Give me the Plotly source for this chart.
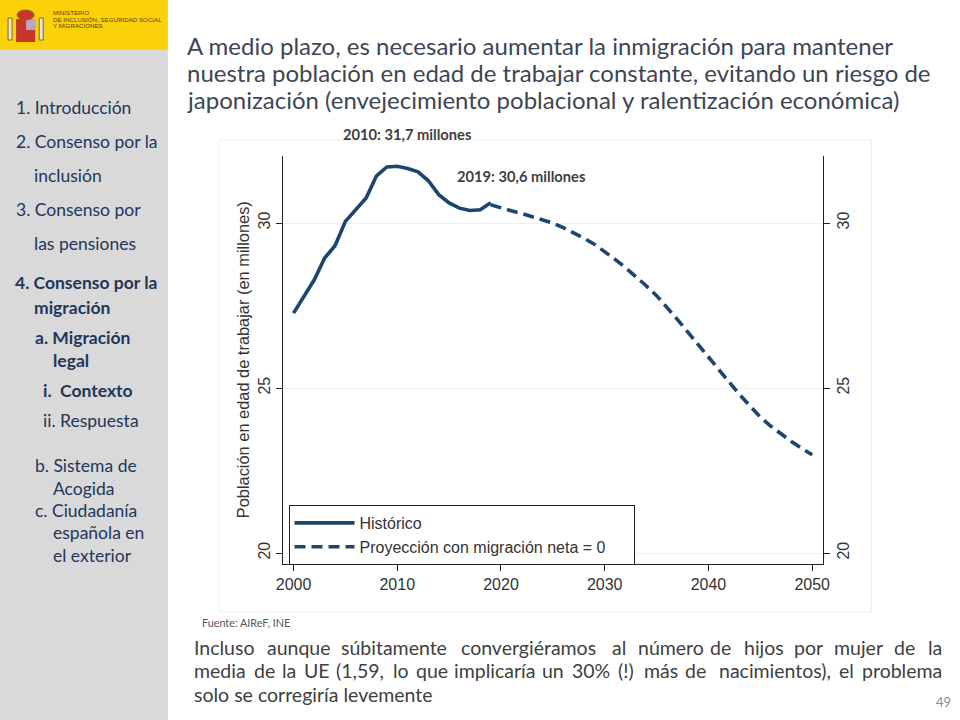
import plotly.graph_objects as go

# ---------------- data ----------------
hist_years = list(range(2000, 2020))
hist_vals = [27.27, 27.78, 28.28, 28.94, 29.31, 30.05, 30.40, 30.76, 31.43, 31.70,
             31.72, 31.65, 31.55, 31.28, 30.86, 30.61, 30.45, 30.38, 30.40, 30.61]

proj_years = list(range(2019, 2051))
proj_vals = [30.55, 30.45, 30.37, 30.29, 30.20, 30.10, 30.00, 29.86, 29.71, 29.54,
             29.36, 29.14, 28.90, 28.65, 28.38, 28.10, 27.80, 27.45, 27.08, 26.70,
             26.33, 25.95, 25.57, 25.18, 24.80, 24.45, 24.12, 23.85, 23.60, 23.38,
             23.17, 22.98]

x_ticks = [2000, 2010, 2020, 2030, 2040, 2050]
y_ticks = [20, 25, 30]

series_names = ["Histórico", "Proyección con migración neta = 0\u00a0\u00a0\u00a0\u00a0\u00a0"]

title_lines = [
    "A medio plazo, es necesario aumentar la inmigración para mantener",
    "nuestra población en edad de trabajar constante, evitando un riesgo de",
    "japonización (envejecimiento poblacional y ralentización económica)",
]
menu_items = [
    ("1. Introducción", 15, 107, False),
    ("2. Consenso por la", 15, 142, False),
    ("inclusión", 33, 175, False),
    ("3. Consenso por", 15, 209, False),
    ("las pensiones", 33, 243, False),
    ("4. Consenso por la", 14, 283, True),
    ("migración", 33, 307, True),
    ("a. Migración", 34, 337, True),
    ("legal", 52, 360, True),
    ("i.  Contexto", 42, 390, True),
    ("ii. Respuesta", 42, 420, False),
    ("b. Sistema de", 34, 465, False),
    ("Acogida", 52, 488, False),
    ("c. Ciudadanía", 34, 510, False),
    ("española en", 52, 532, False),
    ("el exterior", 52, 555, False),
]
bottom_lines = [
    "Incluso aunque súbitamente convergiéramos al número de hijos por mujer de la",
    "media de la UE (1,59, lo que implicaría un 30% (!) más de nacimientos), el problema",
    "solo se corregiría levemente",
]

# figure is laid out a bit wider than the 960px target so that the page renders 1:1
W, H = 980, 720
def px(X):
    return X / 960
def py(Y):
    return 1 - Y / H

navy = "#1c4670"
fig = go.Figure()
fig.add_trace(go.Scatter(x=hist_years, y=hist_vals, mode="lines", name=series_names[0],
                         line=dict(color=navy, width=3.6), xaxis="x", yaxis="y"))
fig.add_trace(go.Scatter(x=proj_years, y=proj_vals, mode="lines", name=series_names[1],
                         line=dict(color=navy, width=3.6, dash="11px,6px"), xaxis="x", yaxis="y"))
fig.add_trace(go.Scatter(x=proj_years, y=proj_vals, mode="lines", showlegend=False,
                         line=dict(width=0), opacity=0, hoverinfo="skip", xaxis="x", yaxis="y2"))

yr = [19.67, 32.03]
tickfont = dict(family="Liberation Sans, Arial", size=16, color="#333333")
fig.update_layout(
    width=W, height=H, margin=dict(l=0, r=0, t=0, b=0),
    paper_bgcolor="white", plot_bgcolor="white",
    showlegend=True,
    xaxis=dict(domain=[px(283), px(820)], range=[1999.03, 2051.07], tickvals=x_ticks,
               showgrid=False, zeroline=False, showline=True, linecolor="#222", linewidth=1,
               ticks="outside", ticklen=6, tickcolor="#222", tickfont=tickfont),
    yaxis=dict(domain=[py(564), py(156)], range=yr, tickvals=y_ticks, tickangle=-90,
               showgrid=True, gridcolor="#efefef", gridwidth=1, zeroline=False,
               showline=True, linecolor="#222", linewidth=1,
               ticks="outside", ticklen=6, tickcolor="#222", tickfont=tickfont),
    yaxis2=dict(overlaying="y", side="right", anchor="x", range=yr, tickvals=y_ticks,
                tickangle=-90, showgrid=False, zeroline=False, showline=True,
                linecolor="#222", linewidth=1, ticks="outside", ticklen=6,
                tickcolor="#222", tickfont=tickfont),
    legend=dict(x=px(288), y=py(505), xanchor="left", yanchor="top",
                bgcolor="white", bordercolor="#222", borderwidth=1,
                font=dict(family="Liberation Sans, Arial", size=16, color="#333333"),
                tracegroupgap=0, itemwidth=60),
)

shapes = []
# sidebar
shapes.append(dict(type="rect", xref="paper", yref="paper", x0=0, x1=px(168), y0=0, y1=py(50),
                   fillcolor="#d9d9d9", line=dict(width=0), layer="below"))
shapes.append(dict(type="rect", xref="paper", yref="paper", x0=0, x1=px(168), y0=py(50), y1=1,
                   fillcolor="#fbd209", line=dict(width=0), layer="below"))
# coat of arms approximation
shapes.append(dict(type="rect", xref="paper", yref="paper", x0=px(17), x1=px(36), y0=py(42), y1=py(19),
                   fillcolor="#c8352b", line=dict(width=0)))
shapes.append(dict(type="rect", xref="paper", yref="paper", x0=px(27), x1=px(36), y0=py(30), y1=py(19),
                   fillcolor="#b9a6c9", line=dict(width=0)))
shapes.append(dict(type="circle", xref="paper", yref="paper", x0=px(18), x1=px(35), y0=py(20), y1=py(10),
                   fillcolor="#c8352b", line=dict(color="#8a6a10", width=1)))
shapes.append(dict(type="rect", xref="paper", yref="paper", x0=px(9), x1=px(13), y0=py(40), y1=py(18),
                   fillcolor="#e9e4dc", line=dict(color="#8a6a10", width=1)))
shapes.append(dict(type="rect", xref="paper", yref="paper", x0=px(40), x1=px(44), y0=py(40), y1=py(18),
                   fillcolor="#e9e4dc", line=dict(color="#8a6a10", width=1)))
# chart container
shapes.append(dict(type="rect", xref="paper", yref="paper", x0=px(219), x1=px(868), y0=py(612), y1=py(140),
                   fillcolor="rgba(0,0,0,0)", line=dict(color="#eeeeee", width=1), layer="below"))
fig.update_layout(shapes=shapes)

ann = []
def txt(s, x, y, size, color, family="Lato", bold=False, xanchor="left", yanchor="middle", angle=0):
    if bold:
        s = "<b>" + s + "</b>"
    ann.append(dict(text=s, x=px(x), y=py(y), xref="paper", yref="paper", showarrow=False,
                    xanchor=xanchor, yanchor=yanchor, textangle=angle,
                    font=dict(family=family, size=size, color=color)))

# logo text
txt("MINISTERIO", 52, 12, 6.2, "#5a3b1a", family="Liberation Sans")
txt("DE INCLUSIÓN, SEGURIDAD SOCIAL", 52, 19, 6.2, "#5a3b1a", family="Liberation Sans")
txt("Y MIGRACIONES", 52, 26, 6.2, "#5a3b1a", family="Liberation Sans")

for s, x, y, b in menu_items:
    txt(s, x, y, 17.5, "#22365a", bold=b)

for i, s in enumerate(title_lines):
    txt(s, 185, 45 + i * 27.5, 24.0, "#3d4654")

txt("2010: 31,7 millones", 340, 134, 14.7, "#404040", bold=True)
txt("2019: 30,6 millones", 454, 176, 14.7, "#404040", bold=True)

txt("Población en edad de trabajar (en millones)", 243, 360, 16.4, "#333333",
    family="Liberation Sans, Arial", xanchor="center", angle=-90)

txt("Fuente: AIReF, INE", 200, 622, 10.8, "#555555")

# justified paragraph: rough relative glyph widths to spread words
def est_w(s):
    t = 0.0
    for c in s:
        if c in "ijlI!.,;:'|í":
            t += 0.27
        elif c in "()":
            t += 0.32
        elif c in "frt":
            t += 0.38
        elif c in "mwMW%":
            t += 0.84
        elif c.isdigit():
            t += 0.58
        elif c.isupper():
            t += 0.64
        elif c == " ":
            t += 0.24
        else:
            t += 0.54
    return t

BODY_SIZE = 19.5
L, R = 192, 940
k = 245.0 / est_w(bottom_lines[2])
for i, line in enumerate(bottom_lines):
    y = 647 + i * 23.5
    if i == len(bottom_lines) - 1:
        txt(line, L, y, BODY_SIZE, "#404040")
        continue
    words = line.split(" ")
    n = len(words)
    widths = [k * est_w(w) for w in words]
    gap = (R - L - sum(widths)) / (n - 1)
    half = n // 2
    xpos = L
    for j in range(half):
        txt(words[j], xpos, y, BODY_SIZE, "#404040")
        xpos += widths[j] + gap
    xpos = R
    for j in range(n - 1, half - 1, -1):
        txt(words[j], xpos, y, BODY_SIZE, "#404040", xanchor="right")
        xpos -= widths[j] + gap

txt("49", 949, 702, 13, "#8c8c8c", xanchor="right")

fig.update_layout(annotations=ann)
fig.write_html("out.html",
               config={"displayModeBar": False},
               post_script="document.body.style.margin='0 0 0 -9px';"
                           "document.body.style.overflow='hidden';"
                           "document.documentElement.style.overflow='hidden';")
